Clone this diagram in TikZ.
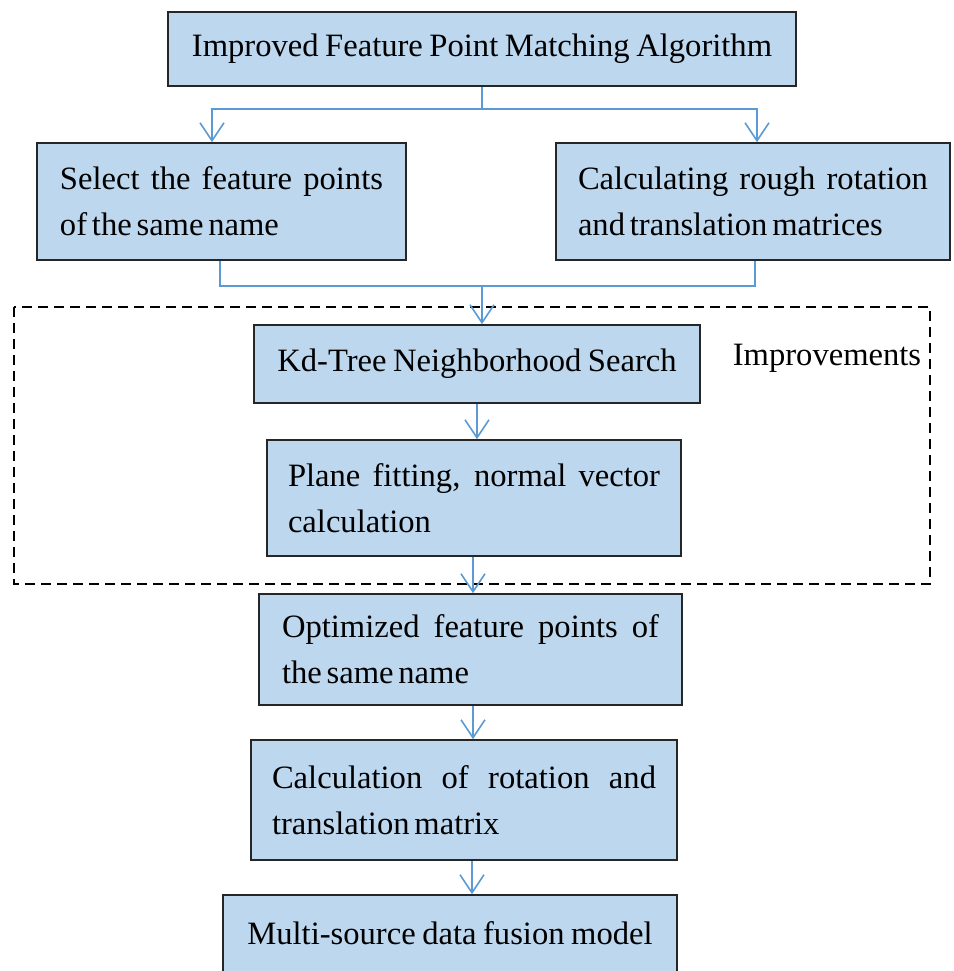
\documentclass[tikz,border=0pt]{standalone}
\usepackage{fontspec}
\setmainfont{Liberation Serif}[WordSpace=0.8]
\usetikzlibrary{positioning}
\usetikzlibrary{arrows.meta}
\usepackage{xcolor}
\definecolor{boxblue}{HTML}{BDD7EE}
\definecolor{linkblue}{HTML}{5B9BD5}
\newcommand{\spreadline}[1]{\hbox to \hsize{\spaceskip=3pt plus 1fil\relax #1}}
\newcommand{\tightwords}{\spaceskip=2.4pt plus 1pt\relax}

\begin{document}
\begin{tikzpicture}[x=0.5pt,y=-0.5pt,
   box/.style={draw=black!85,fill=boxblue,line width=0.8pt,inner ysep=0pt,
     font=\fontsize{16.3}{23}\selectfont},
   twoline/.style={box,inner xsep=11.5pt,align=left,execute at begin node=\tightwords},
   link/.style={draw=linkblue,line width=0.8pt},
   >={Straight Barb[length=9pt,width=12pt]}]
   \useasboundingbox (0,0) rectangle (954,971);
   \clip (0,0) rectangle (954,971);
   % dashed frame of the improved steps
   \draw[line width=0.8pt,dash pattern=on 5pt off 3pt] (14,307) rectangle (930,584);
   \node[box,minimum width=314pt,minimum height=37pt] (n_top) at (482,49) {Improved Feature Point Matching Algorithm};
   \node[twoline,text width=161.5pt,minimum height=58.5pt] (n_sel) at (221.5,201.5) {\spreadline{Select the feature points}\\of the same name};
   \node[twoline,inner xsep=11pt,text width=175pt,minimum height=58.5pt] (n_rough) at (753,201.5) {\spreadline{Calculating rough rotation}\\and translation matrices};
   \node[box,minimum width=223pt,minimum height=39pt] (n_kd) at (477,364) {Kd-Tree Neighborhood Search};
   \node[font=\fontsize{16.3}{23}\selectfont] (n_imp) at (827,358) {Improvements};
   \node[twoline,inner xsep=10.5pt,text width=186pt,minimum height=58pt] (n_plane) at (474,498) {\spreadline{Plane fitting, normal vector}\\calculation};
   \node[twoline,text width=188.5pt,minimum height=55.5pt] (n_opt) at (470.5,649.5) {\spreadline{Optimized feature points of}\\the same name};
   \node[twoline,inner xsep=10.5pt,text width=192pt,minimum height=60pt] (n_calc) at (464,800) {\spreadline{Calculation of rotation and}\\translation matrix};
   \node[box,minimum width=227pt,minimum height=38.5pt] (n_fuse) at (450,933.5) {Multi-source data fusion model};
   \coordinate (c_merge) at (482,285);
    % split and merge
    \draw[link,->] (n_top.south) -- ++(0,22) -| ([xshift=-4.75pt]n_sel.north);
    \draw[link,->] (n_top.south) -- ++(0,22) -| ([xshift=2pt]n_rough.north);
    \draw[link] ([xshift=-0.75pt]n_sel.south) -- ++(0,25) -| ([xshift=1pt]n_rough.south);
    \draw[link,->] (c_merge) -- (c_merge |- n_kd.north);
    % main chain
    \draw[link,->] (n_kd.south) -- (n_kd.south |- n_plane.north);
    \draw[link,->] ([xshift=-0.5pt]n_plane.south) -- ([xshift=-0.5pt]n_plane.south |- n_opt.north);
    \draw[link,->] ([xshift=1.25pt]n_opt.south) -- ([xshift=1.25pt]n_opt.south |- n_calc.north);
    \draw[link,->] ([xshift=4pt]n_calc.south) -- ([xshift=4pt]n_calc.south |- n_fuse.north);
\end{tikzpicture}
\end{document}
